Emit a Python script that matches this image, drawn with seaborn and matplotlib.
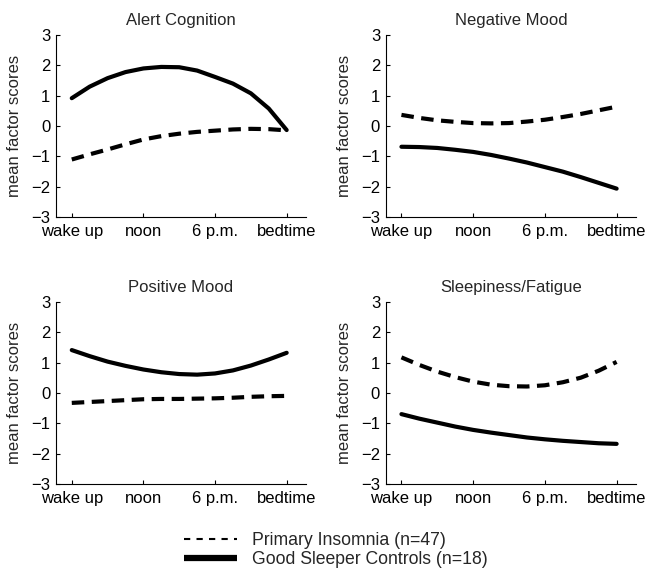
"""
Diurnal factor-score curves: primary insomnia vs good sleeper controls.
Four panels (2x2), one per factor, plus a shared legend underneath.
"""

import pandas as pd
import seaborn as sns
import matplotlib.pyplot as plt
from matplotlib.lines import Line2D

# --------------------------------------------------------------------------- #
# Data (quarter steps between wake up and bedtime)
# --------------------------------------------------------------------------- #
TIME = [0, 0.25, 0.5, 0.75, 1, 1.25, 1.5, 1.75, 2, 2.25, 2.5, 2.75, 3]
TIME_TICKS = [0, 1, 2, 3]
TIME_LABELS = ["wake up", "noon", "6 p.m.", "bedtime"]

INSOMNIA = "Primary Insomnia (n=47)"
CONTROLS = "Good Sleeper Controls (n=18)"

FACTORS = ["Alert Cognition", "Negative Mood", "Positive Mood", "Sleepiness/Fatigue"]

alert_insomnia = [-1.10, -0.93, -0.77, -0.60, -0.44, -0.33, -0.25, -0.19, -0.15, -0.11, -0.09, -0.10, -0.14]
alert_controls = [0.92, 1.30, 1.58, 1.78, 1.90, 1.95, 1.94, 1.83, 1.62, 1.40, 1.08, 0.58, -0.13]

negative_insomnia = [0.37, 0.27, 0.19, 0.14, 0.10, 0.09, 0.10, 0.15, 0.21, 0.30, 0.40, 0.52, 0.64]
negative_controls = [-0.68, -0.69, -0.72, -0.78, -0.85, -0.95, -1.07, -1.20, -1.35, -1.50, -1.68, -1.87, -2.06]

positive_insomnia = [-0.33, -0.30, -0.27, -0.24, -0.21, -0.20, -0.20, -0.19, -0.18, -0.16, -0.13, -0.11, -0.10]
positive_controls = [1.41, 1.21, 1.03, 0.89, 0.77, 0.68, 0.62, 0.60, 0.64, 0.74, 0.90, 1.10, 1.32]

sleepy_insomnia = [1.17, 0.92, 0.70, 0.52, 0.37, 0.27, 0.22, 0.21, 0.25, 0.35, 0.50, 0.73, 1.02]
sleepy_controls = [-0.70, -0.85, -0.98, -1.11, -1.22, -1.31, -1.39, -1.47, -1.53, -1.58, -1.62, -1.66, -1.68]

SERIES = {
    "Alert Cognition": (alert_insomnia, alert_controls),
    "Negative Mood": (negative_insomnia, negative_controls),
    "Positive Mood": (positive_insomnia, positive_controls),
    "Sleepiness/Fatigue": (sleepy_insomnia, sleepy_controls),
}

# long-form table for seaborn
rows = []
for factor, (ins, ctl) in SERIES.items():
    for t, v in zip(TIME, ins):
        rows.append({"factor": factor, "group": INSOMNIA, "time": t, "score": v})
    for t, v in zip(TIME, ctl):
        rows.append({"factor": factor, "group": CONTROLS, "time": t, "score": v})
df = pd.DataFrame(rows)

# --------------------------------------------------------------------------- #
# Style
# --------------------------------------------------------------------------- #
sns.set_style("ticks")
plt.rcParams["font.family"] = ["Liberation Sans", "DejaVu Sans"]
FS = 12

# axes boxes in figure fraction: left, bottom, width, height
POSITIONS = [
    [0.0867, 0.619, 0.387, 0.3195],
    [0.597, 0.619, 0.3875, 0.3195],
    [0.0867, 0.151, 0.387, 0.3195],
    [0.597, 0.151, 0.3875, 0.3195],
]

DASHES = {INSOMNIA: (3, 1.8), CONTROLS: ""}

fig = plt.figure(figsize=(6.46, 5.70), dpi=100)
fig.patch.set_facecolor("white")

for factor, pos in zip(FACTORS, POSITIONS):
    ax = fig.add_axes(pos)
    sns.lineplot(
        data=df[df["factor"] == factor],
        x="time", y="score",
        style="group", style_order=[INSOMNIA, CONTROLS],
        dashes=DASHES,
        color="black", linewidth=3.0,
        errorbar=None, legend=False, ax=ax,
    )
    ax.set_xlim(-0.22, 3.27)
    ax.set_ylim(-3, 3)
    ax.set_xticks(TIME_TICKS)
    ax.set_xticklabels(TIME_LABELS)
    ax.set_yticks(range(-3, 4))
    ax.tick_params(direction="in", length=3, width=0.8, labelsize=FS, colors="black")
    ax.tick_params(axis="x", pad=5)
    ax.tick_params(axis="y", pad=4)
    ax.set_xlabel("")
    ax.set_ylabel("mean factor scores", fontsize=FS)
    ax.yaxis.set_label_coords(-0.135, 0.5)
    ax.set_title(factor, fontsize=FS, pad=7)
    sns.despine(ax=ax)
    for side in ("left", "bottom"):
        ax.spines[side].set_linewidth(0.8)
        ax.spines[side].set_color("black")

handles = [
    Line2D([], [], color="black", lw=1.5, linestyle=(0, (3, 3))),
    Line2D([], [], color="black", lw=4.5, solid_capstyle="butt"),
]
fig.legend(
    handles, [INSOMNIA, CONTROLS],
    loc="center", bbox_to_anchor=(336 / 646, 1 - 550 / 570),
    frameon=False, fontsize=12.7, handlelength=3.0, handletextpad=0.85,
    labelspacing=0.1, borderpad=0,
)

fig.savefig("out.png", dpi=100, facecolor="white")
plt.close(fig)
